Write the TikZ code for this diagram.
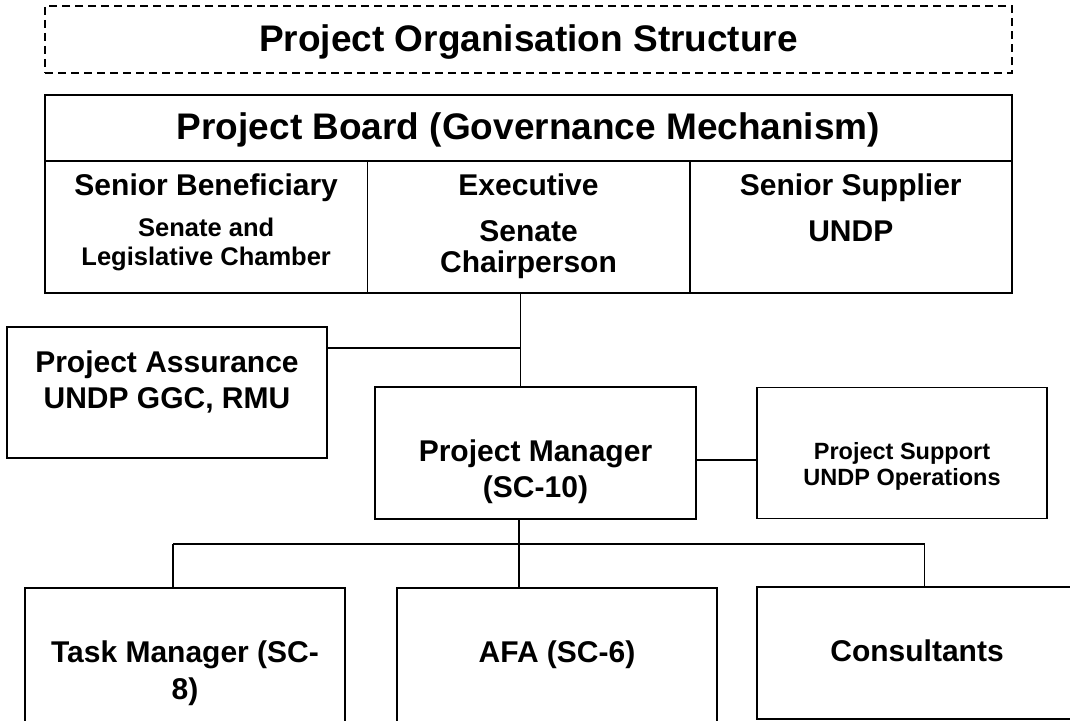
\documentclass[tikz,border=0pt]{standalone}
\usepackage{fontspec}
\setmainfont{Liberation Sans}
\usetikzlibrary{positioning}

\newcommand{\bigfont}{\fontsize{37}{44}\selectfont\bfseries}
\newcommand{\midfont}{\fontsize{30}{36}\selectfont\bfseries}
\newcommand{\smallfont}{\fontsize{25.5}{29}\selectfont\bfseries}
\newcommand{\supfont}{\fontsize{23.5}{26}\selectfont\bfseries}

\begin{document}
\begin{tikzpicture}[x=1pt,y=-1pt,on grid,
    orgbox/.style={draw,line width=1.7pt,inner sep=0pt,minimum width=320pt,minimum height=132pt},
    titlebox/.style={draw,dash pattern=on 8pt off 5pt,line width=1.2pt,inner sep=0pt},
    lbl/.style={anchor=north,inner sep=0pt,align=center,font=\midfont},
    link/.style={line width=1.4pt}]

            \useasboundingbox (0,0) rectangle (1070,720);
            \clip (0,0) rectangle (1070,720);
            \fill[white] (0,0) rectangle (1070,720);

            % boxes
            \node (board) at (528.5,128) [orgbox, minimum width=967pt, minimum height=66pt] {};
            \node (title) [above=88.5pt of board, titlebox, minimum width=967pt, minimum height=67pt] {};
            \node (ben) [below left=99pt and 322.3pt of board, orgbox, minimum width=322.3pt] {};
            \node (exec) [below=99pt of board, orgbox, minimum width=322.3pt] {};
            \node (sup) [below right=99pt and 322.3pt of board, orgbox, minimum width=322.3pt] {};
            \node (pm) [below right=226pt and 7pt of exec, orgbox, minimum width=321pt] {};
            \node (pa) [above left=60.5pt and 368.5pt of pm, orgbox, minimum height=131pt] {};
            \node (ps) [right=366.5pt of pm, orgbox, minimum width=290pt, minimum height=131pt] {};
            \node (afa) [below right=202pt and 21.5pt of pm, orgbox, minimum height=134pt] {};
            \node (tm) [left=372pt of afa, orgbox, minimum height=134pt] {};
            \node (cons) [above right=2pt and 360pt of afa, orgbox] {};

            % texts
            \node (title-t) [lbl, font=\bigfont] at ([yshift=-19pt]title.north) {Project Organisation Structure};
            \node (board-t) [lbl, font=\bigfont] at ([yshift=-18pt]board.north) {Project Board (Governance Mechanism)};
            \node (ben-t) [lbl, font=\fontsize{30}{29}\selectfont\bfseries] at ([yshift=-13.4pt]ben.north)
                {Senior Beneficiary\\[12pt]{\smallfont Senate and}\\{\smallfont Legislative Chamber}};
            \node (exec-t) [lbl, font=\fontsize{30}{31}\selectfont\bfseries] at ([yshift=-13.4pt]exec.north)
                {Executive\\[15pt]Senate\\Chairperson};
            \node (sup-t) [lbl] at ([yshift=-13pt]sup.north) {Senior Supplier\\[10pt]UNDP};
            \node (pa-t) [lbl] at ([yshift=-24.4pt]pa.north) {Project Assurance\\UNDP GGC, RMU};
            \node (pm-t) [lbl] at ([yshift=-53.4pt]pm.north) {Project Manager\\(SC-10)};
            \node (ps-t) [lbl, font=\supfont] at ([yshift=-55.9pt]ps.north) {Project Support\\UNDP Operations};
            \node (tm-t) [lbl, font=\fontsize{30}{37}\selectfont\bfseries] at ([yshift=-53pt]tm.north) {Task Manager (SC-\\8)};
            \node (afa-t) [lbl] at ([yshift=-53pt]afa.north) {AFA (SC-6)};
            \node (cons-t) [lbl] at ([yshift=-53.4pt]cons.north) {Consultants};

            % connectors
            \coordinate (jn) at (520.5,348);
            \coordinate (busl) at (173,544);
            \coordinate (busm) at (519,544);
            \coordinate (busr) at (924.5,544);

            \draw[link] (exec.south -| jn) -- (pm.north -| jn);
            \draw[link] (pa.east |- jn) -- (jn);
            \draw[link] ([yshift=-7pt]pm.east) -- ([yshift=-7pt]ps.west);
            \draw[link] (pm.south -| busm) -- (afa.north -| busm);
            \draw[link] (busl) -- (busr);
            \draw[link] (busl) -- (tm.north -| busl);
            \draw[link] (busr) -- (cons.north -| busr);

        \end{tikzpicture}
\end{document}
